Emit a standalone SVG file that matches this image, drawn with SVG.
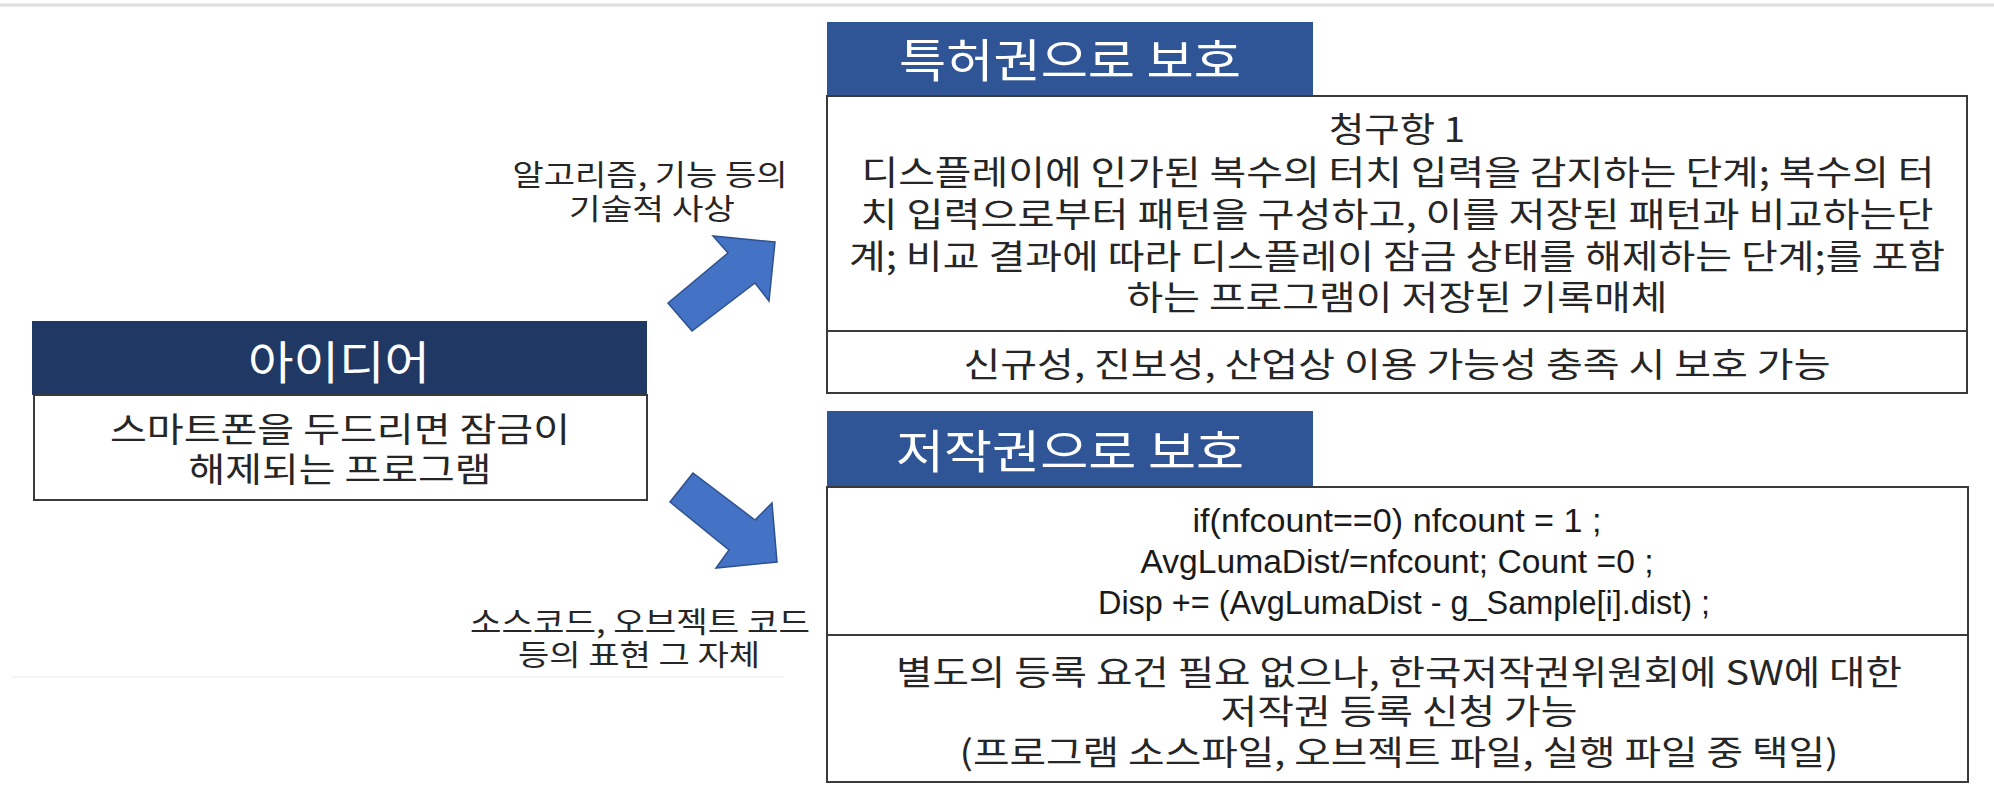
<svg xmlns="http://www.w3.org/2000/svg" width="1994" height="786" viewBox="0 0 1994 786">
<style>
.kr{font-family:"Noto Sans CJK KR","Noto Sans",sans-serif;fill:#262626;text-anchor:middle;dominant-baseline:central}
.hd{font-family:"Noto Sans CJK KR","Noto Sans",sans-serif;fill:#ffffff;text-anchor:middle;dominant-baseline:central;font-size:46px}
.body{font-size:34px}
.lbl{font-size:29px}
.code{font-family:"Liberation Sans",Arial,sans-serif;fill:#1a1a1a;text-anchor:middle;dominant-baseline:central;font-size:33px}
.box{fill:#ffffff;stroke:#3a3a3a;stroke-width:2}
.div{stroke:#3a3a3a;stroke-width:2}
.arrow{fill:#4472c4;stroke:#2f528f;stroke-width:1.5;stroke-linejoin:miter}
</style>
<rect x="0" y="0" width="1994" height="786" fill="#ffffff"/>
<line x1="0" y1="5" x2="1994" y2="5" stroke="#dedede" stroke-width="3"/>
<line x1="12" y1="677" x2="784" y2="677" stroke="#f0f0f0" stroke-width="1.5"/>

<g id="idea">
  <rect x="32" y="321" width="615" height="74" fill="#203864"/>
  <text class="hd" x="339" y="359" textLength="182" lengthAdjust="spacingAndGlyphs">아이디어</text>
  <rect class="box" x="34" y="395" width="613" height="105"/>
  <text class="kr body"><tspan x="340" y="427" textLength="460" lengthAdjust="spacingAndGlyphs">스마트폰을 두드리면 잠금이</tspan><tspan x="340" y="467" textLength="303" lengthAdjust="spacingAndGlyphs">해제되는 프로그램</tspan></text>
</g>

<g id="patent">
  <rect x="827" y="22" width="486" height="74" fill="#2f5597"/>
  <text class="hd" x="1070" y="57" textLength="342" lengthAdjust="spacingAndGlyphs">특허권으로 보호</text>
  <rect class="box" x="827" y="96" width="1140" height="297"/>
  <line class="div" x1="827" y1="331" x2="1967" y2="331"/>
  <text class="kr body"><tspan x="1397" y="127" textLength="136" lengthAdjust="spacingAndGlyphs">청구항 1</tspan><tspan x="1398" y="170" textLength="1073" lengthAdjust="spacingAndGlyphs">디스플레이에 인가된 복수의 터치 입력을 감지하는 단계; 복수의 터</tspan><tspan x="1397" y="212" textLength="1073" lengthAdjust="spacingAndGlyphs">치 입력으로부터 패턴을 구성하고, 이를 저장된 패턴과 비교하는단</tspan><tspan x="1397" y="254" textLength="1096" lengthAdjust="spacingAndGlyphs">계; 비교 결과에 따라 디스플레이 잠금 상태를 해제하는 단계;를 포함</tspan><tspan x="1397" y="295" textLength="541" lengthAdjust="spacingAndGlyphs">하는 프로그램이 저장된 기록매체</tspan></text>
  <text class="kr body" x="1397" y="362" textLength="867" lengthAdjust="spacingAndGlyphs">신규성, 진보성, 산업상 이용 가능성 충족 시 보호 가능</text>
</g>

<g id="copyright">
  <rect x="827" y="411" width="486" height="76" fill="#2f5597"/>
  <text class="hd" x="1070" y="448" textLength="348" lengthAdjust="spacingAndGlyphs">저작권으로 보호</text>
  <rect class="box" x="827" y="487" width="1141" height="295"/>
  <line class="div" x1="827" y1="635" x2="1968" y2="635"/>
  <text class="code"><tspan x="1397" y="520" textLength="409" lengthAdjust="spacingAndGlyphs">if(nfcount==0) nfcount = 1 ;</tspan><tspan x="1397" y="561" textLength="513" lengthAdjust="spacingAndGlyphs">AvgLumaDist/=nfcount; Count =0 ;</tspan><tspan x="1404" y="602" textLength="612" lengthAdjust="spacingAndGlyphs">Disp += (AvgLumaDist - g_Sample[i].dist) ;</tspan></text>
  <text class="kr body"><tspan x="1399" y="670" textLength="1006" lengthAdjust="spacingAndGlyphs">별도의 등록 요건 필요 없으나, 한국저작권위원회에 SW에 대한</tspan><tspan x="1399" y="709" textLength="357" lengthAdjust="spacingAndGlyphs">저작권 등록 신청 가능</tspan><tspan x="1399" y="750" textLength="879" lengthAdjust="spacingAndGlyphs">(프로그램 소스파일, 오브젝트 파일, 실행 파일 중 택일)</tspan></text>
</g>

<g id="label-tech">
  <text class="kr lbl"><tspan x="650" y="173" textLength="275" lengthAdjust="spacingAndGlyphs">알고리즘, 기능 등의</tspan><tspan x="652" y="207" textLength="166" lengthAdjust="spacingAndGlyphs">기술적 사상</tspan></text>
</g>
<g id="label-expr">
  <text class="kr lbl"><tspan x="640" y="620" textLength="340" lengthAdjust="spacingAndGlyphs">소스코드, 오브젝트 코드</tspan><tspan x="639" y="653" textLength="242" lengthAdjust="spacingAndGlyphs">등의 표현 그 자체</tspan></text>
</g>

<g id="connectors">
  <polygon class="arrow" points="775,242 713,236 728,253 668,303 692,331 755,283 769,301"/>
  <polygon class="arrow" points="693,473 670,502 729,550 716,568 777,562 772,503 755,520"/>
</g>
</svg>
